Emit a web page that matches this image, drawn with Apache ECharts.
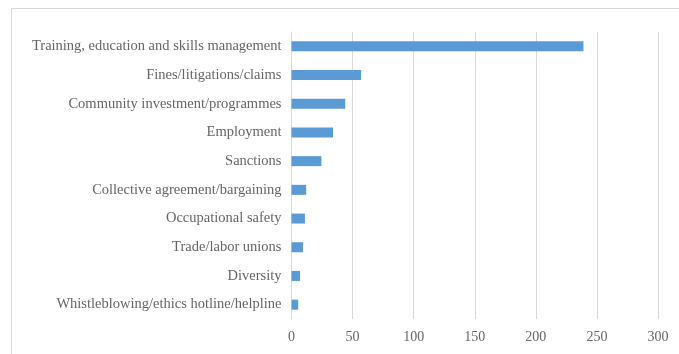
<!DOCTYPE html>
<html>
<head>
<meta charset="utf-8">
<script src="https://cdn.jsdelivr.net/npm/echarts@6/dist/echarts.min.js"></script>
<style>html,body{margin:0;padding:0;background:#fff}#c{width:679px;height:354px}</style>
</head>
<body>
<div id="c"></div>
<script>
const categories = [
  "Training, education and skills management",
  "Fines/litigations/claims",
  "Community investment/programmes",
  "Employment",
  "Sanctions",
  "Collective agreement/bargaining",
  "Occupational safety",
  "Trade/labor unions",
  "Diversity",
  "Whistleblowing/ethics hotline/helpline"
];
const values = [239, 57, 44, 34, 24.5, 12, 11, 9.5, 7, 5.5];
const xTicks = [0, 50, 100, 150, 200, 250, 300];

const chart = echarts.init(document.getElementById('c'));
chart.setOption({
  animation: false,
  graphic: [{
    type: 'rect',
    shape: {x: 11.5, y: 8.5, width: 700, height: 400},
    style: {fill: 'none', stroke: '#d9d9d9', lineWidth: 1},
    silent: true
  }],
  grid: {left: 291.5, right: 21, top: 32, bottom: 35, containLabel: false},
  xAxis: {
    type: 'value', min: xTicks[0], max: xTicks[xTicks.length - 1], interval: 50,
    axisLine: {show: false}, axisTick: {show: false},
    splitLine: {show: true, lineStyle: {color: '#d9d9d9', width: 1}},
    axisLabel: {color: '#666666', fontFamily: 'Liberation Serif', fontSize: 14, margin: 11}
  },
  yAxis: {
    type: 'category', data: categories.slice().reverse(), inverse: false,
    axisLine: {show: true, lineStyle: {color: '#d9d9d9'}},
    axisTick: {show: false},
    axisLabel: {color: '#666666', fontFamily: 'Liberation Serif', fontSize: 14.5, margin: 10}
  },
  series: [{
    type: 'bar',
    data: values.slice().reverse(),
    barWidth: 10,
    itemStyle: {color: '#5b9bd5'}
  }]
});
</script>
</body>
</html>
